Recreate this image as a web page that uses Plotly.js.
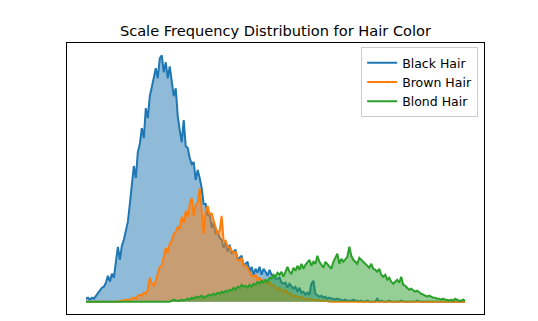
<!DOCTYPE html>
<html>
<head>
<meta charset="utf-8">
<script src="https://cdn.plot.ly/plotly-3.0.1.min.js"></script>
<style>html,body{margin:0;padding:0;background:#fff;}#chart{width:538px;height:321px;}</style>
</head>
<body>
<div id="chart"></div>
<script>
// Frequency per scale step (bins 0..190)
const blackHair = [
  3,4,2,4,3,6,8,12,14,15,
  19,26,20,28,24,40,55,42,56,62,
  72,80,98,116,136,124,150,158,174,164,
  194,184,206,215,224,234,224,244,247,230,
  240,224,236,218,206,214,186,172,160,182,
  156,154,144,138,140,122,132,124,114,98,
  98,86,88,74,80,68,70,64,62,54,
  60,50,57,48,50,52,42,44,46,36,
  38,40,30,35,27,33,29,35,27,33,
  30,26,32,27,26,23,23,24,19,18,
  19,14,18,16,13,15,10,14,9,10,
  7,9,7,18,21,8,6,5,6,4,
  5,3,4,3,3,2,3,2,2,1,
  2,1,1,1,2,1,1,0,1,0,
  0,1,0,0,0,0,3,0,1,0,
  0,0,1,0,0,0,0,0,1,0,
  0,0,0,0,0,0,1,0,0,0,
  0,0,0,0,0,0,0,0,0,0,
  0,0,0,0,0,0,0,0,0,0,
  0
];
const brownHair = [
  0,0,0,0,0,0,0,0,0,0,
  0,0,0,0,0,0,0,1,1,1,
  2,1,2,3,4,3,6,7,6,9,
  8,12,24,18,16,21,28,35,36,45,
  54,49,58,61,68,70,75,73,85,79,
  91,85,98,104,86,97,99,114,91,68,
  91,96,87,89,81,75,68,71,86,61,
  61,55,55,51,49,50,42,41,44,37,
  36,34,30,26,25,27,22,24,20,22,
  19,18,20,16,17,15,12,14,11,10,
  12,8,9,7,5,6,5,4,5,3,
  3,2,3,2,2,1,2,1,1,1,
  1,1,0,0,0,0,0,0,0,0,
  0,0,0,0,0,0,0,0,0,0,
  0,0,0,0,0,0,0,0,0,0,
  0,0,0,0,0,0,0,0,0,0,
  0,0,0,0,0,0,0,0,0,0,
  0,0,0,0,0,0,0,0,0,0,
  0,0,0,0,0,0,0,0,0,0,
  0
];
const blondHair = [
  0,0,0,0,0,0,0,0,0,0,
  0,0,0,0,0,0,0,0,0,0,
  0,0,0,0,0,0,0,0,0,0,
  0,0,0,0,0,0,0,0,0,0,
  0,0,0,1,2,1,1,1,2,1,
  2,3,2,4,3,5,4,5,6,4,
  5,6,7,6,8,7,9,8,10,9,
  11,10,12,11,14,12,15,14,17,15,
  16,14,17,15,18,17,20,18,21,19,
  22,20,24,23,27,25,29,27,30,25,
  30,35,30,28,34,31,36,32,38,33,
  37,40,42,36,40,38,46,40,37,34,
  40,38,36,33,40,44,48,38,43,40,
  42,45,55,46,42,40,38,44,42,40,
  38,35,34,38,33,32,30,33,27,25,
  27,22,24,20,18,20,22,19,25,17,
  16,14,12,13,11,10,11,9,8,7,
  6,5,6,5,4,4,3,3,2,3,
  2,2,1,2,1,3,2,1,1,2,
  1
];
const seriesNames = ["Black Hair", "Brown Hair", "Blond Hair"];
const lineColors = ["#1f77b4", "#ff7f0e", "#2ca02c"];
const fillColors = ["rgba(31,119,180,0.5)", "rgba(255,127,14,0.5)", "rgba(44,160,44,0.5)"];

const allSeries = [blackHair, brownHair, blondHair];
const scale = blackHair.map((_, i) => i);

const traces = [];
allSeries.forEach((ys, k) => {
  traces.push({
    x: scale, y: ys, type: "scatter", mode: "lines",
    name: seriesNames[k], line: {color: lineColors[k], width: 2},
    showlegend: true, hoverinfo: "skip"
  });
  traces.push({
    x: scale, y: ys, type: "scatter", mode: "lines", fill: "tozeroy",
    fillcolor: fillColors[k], line: {width: 0, color: fillColors[k]},
    showlegend: false, hoverinfo: "skip"
  });
});

const n = scale.length - 1;
const ymax = Math.max(...allSeries.map(s => Math.max(...s)));

const layout = {
  width: 538, height: 321,
  margin: {l: 67, r: 54, t: 43, b: 7},
  paper_bgcolor: "#fff", plot_bgcolor: "#fff",
  font: {family: "DejaVu Sans", color: "#000"},
  title: {text: "Scale Frequency Distribution for Hair Color", font: {size: 14.6, family: "DejaVu Sans", color: "#000"},
          x: 0.512, xanchor: "center", y: 0.905, yanchor: "middle", yref: "container"},
  xaxis: {range: [-0.05 * n, 1.05 * n], showticklabels: false, ticks: "", showgrid: false, zeroline: false,
          showline: true, mirror: true, linecolor: "#000", linewidth: 1},
  yaxis: {range: [-0.05 * ymax, 1.05 * ymax], showticklabels: false, ticks: "", showgrid: false, zeroline: false,
          showline: true, mirror: true, linecolor: "#000", linewidth: 1},
  legend: {x: 0.986, xanchor: "right", y: 0.985, yanchor: "top", bgcolor: "rgba(255,255,255,0.8)",
           bordercolor: "#cccccc", borderwidth: 1, font: {size: 12.5, family: "DejaVu Sans", color: "#000"},
           tracegroupgap: 0, itemwidth: 30}
};

Plotly.newPlot("chart", traces, layout, {displayModeBar: false, staticPlot: true});
</script>
</body>
</html>
